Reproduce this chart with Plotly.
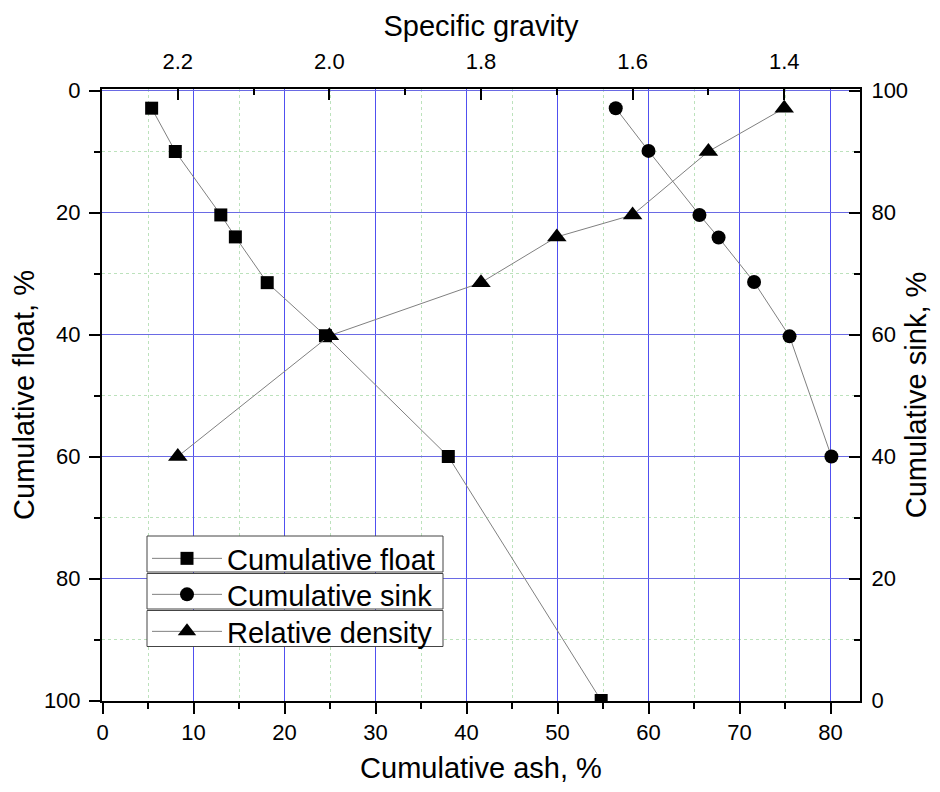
import plotly.graph_objects as go

# ---- data ----
ash_float = [5.4, 8.0, 13.0, 14.6, 18.1, 24.5, 38.0, 54.8]
cum_float = [2.9, 10.0, 20.4, 24.0, 31.5, 40.2, 60.0, 100.0]

ash_sink = [56.4, 60.0, 65.6, 67.7, 71.6, 75.5, 80.1]
cum_sink = [97.1, 90.1, 79.6, 75.9, 68.6, 59.7, 40.0]

spec_gravity = [1.4, 1.5, 1.6, 1.7, 1.8, 2.0, 2.2]
float_at_sg = [2.9, 10.0, 20.4, 24.0, 31.5, 40.2, 60.0]

names = ["Cumulative float", "Cumulative sink", "Relative density"]

# minor tick / grid positions (between the labelled ticks)
ash_minor = [5, 15, 25, 35, 45, 55, 65, 75]
pct_minor = [10, 30, 50, 70, 90]
sg_minor = [1.3, 1.5, 1.7, 1.9, 2.1]

FONT = "Arial, Liberation Sans, Helvetica, sans-serif"
LINE_C = "#808080"
BLUE_X = "#5050f0"
BLUE_Y = "#6a6ae4"
GREEN = "rgb(188,226,188)"

# plot-area geometry (px) so that grid lines fall on pixel centres
W, H = 758, 612
SX, SY = 9.1, 6.1
x0 = -0.5 / SX
x_range = [x0, x0 + W / SX]
y0 = -1.5 / SY
y_range = [y0 + H / SY, y0]          # reversed (float)
y2_range = [100 - (y0 + H / SY), 100 - y0]

fig = go.Figure()

fig.add_trace(go.Scatter(
    x=ash_float, y=cum_float, name=names[0], mode="lines+markers",
    line=dict(color=LINE_C, width=1),
    marker=dict(symbol="square", size=13, color="black"),
    xaxis="x", yaxis="y", legend="legend", showlegend=True))

fig.add_trace(go.Scatter(
    x=ash_sink, y=cum_sink, name=names[1], mode="lines+markers",
    line=dict(color=LINE_C, width=1),
    marker=dict(symbol="circle", size=14, color="black"),
    xaxis="x", yaxis="y2", legend="legend2", showlegend=True))

fig.add_trace(go.Scatter(
    x=spec_gravity, y=float_at_sg, name=names[2], mode="lines+markers",
    line=dict(color=LINE_C, width=1),
    marker=dict(symbol="triangle-up", size=17, color="black"),
    xaxis="x2", yaxis="y", legend="legend3", showlegend=True))

tickfont = dict(family=FONT, size=22, color="black")
titlefont = dict(family=FONT, size=29, color="black")

fig.update_layout(
    width=924, height=776,
    margin=dict(l=94, r=924 - 94 - W, t=81, b=776 - 81 - H),
    paper_bgcolor="white", plot_bgcolor="white",
    font=dict(family=FONT, color="black"),
    showlegend=True,
    xaxis=dict(
        range=x_range, dtick=10, tick0=0,
        showline=True, linecolor="black", linewidth=2,
        ticks="outside", ticklen=11, tickwidth=2, tickcolor="black",
        showgrid=True, gridcolor=BLUE_X, gridwidth=1,
        minor=dict(tickmode="array", tickvals=ash_minor, ticks="outside", ticklen=6,
                   tickwidth=2, tickcolor="black",
                   showgrid=True, gridcolor=GREEN, gridwidth=1, griddash="3px,3px"),
        zeroline=False, tickfont=tickfont,
        title=dict(text="Cumulative ash, %", font=titlefont, standoff=30),
        automargin=False,
    ),
    xaxis2=dict(
        overlaying="x", side="top", range=[2.3, 1.3], tick0=1.4, dtick=0.2,
        showline=True, linecolor="black", linewidth=2,
        ticks="inside", ticklen=11, tickwidth=2, tickcolor="black",
        showgrid=False, zeroline=False, tickformat=".1f",
        minor=dict(tickmode="array", tickvals=sg_minor, ticks="inside", ticklen=6,
                   tickwidth=2, tickcolor="black", showgrid=False),
        tickfont=tickfont, ticklabelstandoff=9,
        title=dict(text="Specific gravity", font=titlefont, standoff=4),
        automargin=False,
    ),
    yaxis=dict(
        range=y_range, dtick=20, tick0=0,
        showline=True, linecolor="black", linewidth=2,
        ticks="outside", ticklen=11, tickwidth=2, tickcolor="black",
        showgrid=True, gridcolor=BLUE_Y, gridwidth=1,
        minor=dict(tickmode="array", tickvals=pct_minor, ticks="outside", ticklen=6,
                   tickwidth=2, tickcolor="black",
                   showgrid=True, gridcolor=GREEN, gridwidth=1, griddash="3px,3px"),
        zeroline=False, tickfont=tickfont, ticklabelstandoff=4,
        title=dict(text="Cumulative float, %", font=titlefont, standoff=12),
        automargin=False,
    ),
    yaxis2=dict(
        overlaying="y", side="right", range=y2_range, dtick=20, tick0=0,
        showline=True, linecolor="black", linewidth=2,
        ticks="inside", ticklen=11, tickwidth=2, tickcolor="black",
        showgrid=False, zeroline=False,
        minor=dict(tickmode="array", tickvals=pct_minor, ticks="inside", ticklen=6,
                   tickwidth=2, tickcolor="black", showgrid=False),
        tickfont=tickfont, ticklabelstandoff=5,
        title=dict(text="Cumulative sink, %", font=titlefont, standoff=2),
        automargin=False,
    ),
)

# legend frames (three separate boxes, as in the reference), in page px -> paper
PL, PB = 102, 89 + H  # plot-area left / bottom in page px


def px_x(p):
    return (p - PL) / W


def px_y(p):
    return (PB - p) / H


boxes = [(536, 572), (573.5, 609), (610.5, 646.5)]
shapes = []
for top, bot in boxes:
    shapes.append(dict(type="rect", xref="paper", yref="paper",
                       x0=px_x(147), x1=px_x(443), y0=px_y(bot), y1=px_y(top),
                       line=dict(color="#444444", width=1), fillcolor="white",
                       layer="above"))
fig.update_layout(shapes=shapes)

leg_common = dict(
    xanchor="left", yanchor="top", x=px_x(147),
    bgcolor="rgba(0,0,0,0)", borderwidth=0,
    font=dict(family=FONT, size=29, color="black"),
    itemwidth=70, itemsizing="trace",
)
fig.update_layout(
    legend=dict(y=px_y(533), **leg_common),
    legend2=dict(y=px_y(569), **leg_common),
    legend3=dict(y=px_y(606), **leg_common),
)

fig.write_html("out.html")
